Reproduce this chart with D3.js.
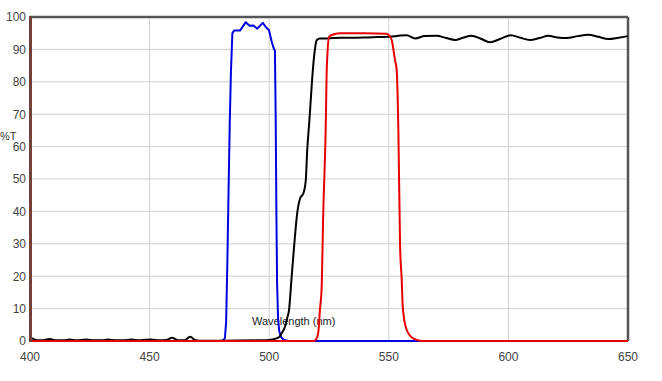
<!DOCTYPE html>
<html>
<head>
<meta charset="utf-8">
<script src="https://cdn.jsdelivr.net/npm/d3@7"></script>
<style>
  body { margin: 0; background: #fff; }
  svg { display: block; font-family: Arial, "Liberation Sans", sans-serif; }
</style>
</head>
<body>
<div id="chart"></div>
<script>
// tick labels
const xTicks = [400, 450, 500, 550, 600, 650];
const yTicks = [0, 10, 20, 30, 40, 50, 60, 70, 80, 90, 100];

// blue filter
const blueNm = [400, 480, 481, 481.5, 482, 482.5, 483, 483.5, 484, 484.6, 485.3, 487.8, 490.2, 491.8, 493.4, 495, 497.3, 498.9, 499.9, 501, 501.8, 502.4, 502.7, 503, 503.3, 503.7, 504.2, 505, 506, 508, 650];
const blueT = [0, 0, 0.3, 1, 6, 24, 46, 67, 83, 95, 95.8, 95.8, 98.4, 97.3, 97.4, 96.4, 98.2, 96.6, 96, 92.5, 90.5, 89.6, 70, 40, 18, 7, 3, 1.2, 0.4, 0, 0];

// black filter
const blackNm = [400, 401.5, 403, 405, 408.2, 411, 414, 416.6, 419.5, 423.4, 427, 430, 432.6, 436, 439, 442.2, 446, 450.6, 454, 457, 459.4, 462, 464.5, 467, 469, 471, 480, 495, 500, 502, 504, 505.2, 506.6, 507.5, 508.3, 509.3, 510.5, 511.7, 512.9, 514.3, 515.3, 515.9, 516.8, 517.6, 518.4, 519.2, 519.9, 521.2, 524, 530, 535, 540.8, 545, 550.5, 554, 557.5, 561, 565, 570, 574, 577.7, 581, 584.6, 588.5, 592.3, 596.5, 601, 605, 609, 613, 616.7, 620.5, 624.4, 629, 633.4, 637.5, 641.8, 646, 650];
const blackT = [1.2, 0.6, 0.2, 0.2, 0.6, 0.2, 0.2, 0.5, 0.2, 0.5, 0.2, 0.2, 0.5, 0.2, 0.2, 0.5, 0.2, 0.5, 0.2, 0.3, 1.0, 0.2, 0.2, 1.3, 0.3, 0.1, 0.1, 0.2, 0.3, 0.6, 1.1, 2.4, 4.4, 7, 9.6, 19, 30, 39.4, 44, 45.6, 49.7, 59, 68, 77, 85, 90.5, 92.9, 93.4, 93.4, 93.6, 93.6, 93.7, 93.8, 93.9, 94.2, 94.4, 93.4, 94.1, 94.2, 93.5, 92.9, 93.6, 94.2, 93.3, 92.2, 93.2, 94.4, 93.6, 92.9, 93.5, 94.2, 93.7, 93.5, 94.1, 94.5, 93.9, 93.2, 93.6, 94.1];

// red filter
const redNm = [400, 518.5, 519.6, 520.5, 521.2, 521.9, 522.6, 523.6, 524.1, 525.1, 526.8, 530, 540, 549.1, 550.3, 551.2, 552.6, 553.3, 554, 554.7, 555.4, 555.8, 556.1, 557.5, 560.2, 563.7, 650];
const redT = [0, 0, 0.5, 2.5, 9.6, 16, 39.5, 65, 84.7, 94, 94.6, 95, 95, 94.8, 94.2, 92.9, 86.7, 83.6, 65, 30, 18.8, 11, 8.5, 3.4, 0.8, 0, 0];

const width = 662, height = 381;
const margin = { top: 17, right: 34, bottom: 40, left: 30 };

const svg = d3.select("#chart").append("svg")
    .attr("width", width)
    .attr("height", height);

const x = d3.scaleLinear().domain([400, 650]).range([margin.left, width - margin.right]);
const y = d3.scaleLinear().domain([0, 100]).range([height - margin.bottom, margin.top]);

// grid
svg.append("g").selectAll("line")
    .data(xTicks)
    .enter().append("line")
    .attr("x1", d => x(d)).attr("x2", d => x(d))
    .attr("y1", y(0)).attr("y2", y(100))
    .attr("stroke", "#d0d0d0")
    .attr("stroke-width", 1);

svg.append("g").selectAll("line")
    .data(yTicks)
    .enter().append("line")
    .attr("x1", x(400)).attr("x2", x(650))
    .attr("y1", d => y(d)).attr("y2", d => y(d))
    .attr("stroke", "#d0d0d0")
    .attr("stroke-width", 1);

// frame
svg.append("line")
    .attr("x1", x(400)).attr("x2", x(650))
    .attr("y1", y(100)).attr("y2", y(100))
    .attr("stroke", "#555").attr("stroke-width", 2.5);
svg.append("line")
    .attr("x1", x(650)).attr("x2", x(650))
    .attr("y1", y(100)).attr("y2", y(0))
    .attr("stroke", "#555").attr("stroke-width", 2.5);
svg.append("line")
    .attr("x1", x(400)).attr("x2", x(650))
    .attr("y1", y(0)).attr("y2", y(0))
    .attr("stroke", "#555").attr("stroke-width", 2);

// tick labels
svg.append("g").selectAll("text")
    .data(yTicks)
    .enter().append("text")
    .attr("x", margin.left - 4)
    .attr("y", d => y(d))
    .attr("dy", "0.36em")
    .attr("text-anchor", "end")
    .attr("font-size", "12px")
    .attr("fill", "#444")
    .text(d => d);

svg.append("g").selectAll("text")
    .data(xTicks)
    .enter().append("text")
    .attr("x", d => x(d))
    .attr("y", y(0) + 20)
    .attr("text-anchor", "middle")
    .attr("font-size", "12px")
    .attr("fill", "#444")
    .text(d => d);

svg.append("text")
    .attr("x", 0)
    .attr("y", 139.5)
    .attr("font-size", "11px")
    .attr("fill", "#333")
    .text("%T");

svg.append("text")
    .attr("x", 252)
    .attr("y", 325)
    .attr("font-size", "11px")
    .attr("fill", "#222")
    .text("Wavelength (nm)");

// curves
function drawCurve(nm, vals, color, curve) {
    const pts = nm.map((d, i) => [d, vals[i]]);
    const line = d3.line()
        .x(d => x(d[0]))
        .y(d => y(d[1]))
        .curve(curve);
    svg.append("path")
        .datum(pts)
        .attr("d", line)
        .attr("fill", "none")
        .attr("stroke", color)
        .attr("stroke-width", 2)
        .attr("stroke-linejoin", "round");
}

drawCurve(blueNm, blueT, "#0000e0", d3.curveLinear);
drawCurve(blackNm, blackT, "#000", d3.curveMonotoneX);
drawCurve(redNm, redT, "#e80000", d3.curveMonotoneX);

// left axis line (brown)
svg.append("line")
    .attr("x1", x(400) + 0.5).attr("x2", x(400) + 0.5)
    .attr("y1", y(100) - 1).attr("y2", y(0) + 1)
    .attr("stroke", "#74403a").attr("stroke-width", 3);
</script>
</body>
</html>
